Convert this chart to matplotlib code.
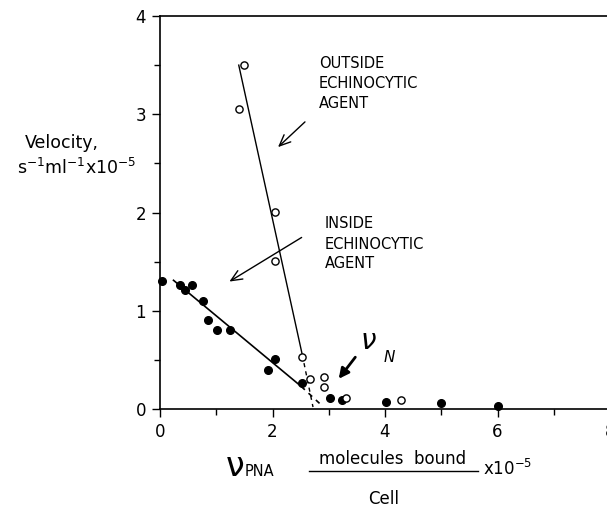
import matplotlib
matplotlib.use("Agg")
import matplotlib.pyplot as plt
from matplotlib.ticker import MultipleLocator

plt.rcParams['font.family'] = ['DejaVu Sans']
plt.rcParams['mathtext.fontset'] = 'dejavusans'

# Inside echinocytic agent (filled circles)
inside_x = [0.03, 0.36, 0.45, 0.57, 0.76, 0.86, 1.01, 1.25, 1.92, 2.04, 2.53, 3.03, 3.23, 4.02, 5.0, 6.0]
inside_y = [1.30, 1.26, 1.21, 1.26, 1.10, 0.905, 0.80, 0.80, 0.40, 0.51, 0.26, 0.11, 0.09, 0.075, 0.064, 0.03]

# Outside echinocytic agent (open circles)
outside_x = [1.50, 1.40, 2.05, 2.04, 2.53, 2.67, 2.91, 2.91, 3.31, 4.29]
outside_y = [3.50, 3.05, 2.01, 1.51, 0.53, 0.31, 0.33, 0.22, 0.11, 0.09]

# Fitted lines (solid part and dashed extrapolation)
inside_fit_x = [0.24, 2.51]
inside_fit_y = [1.31, 0.23]
inside_ext_x = [2.51, 2.85]
inside_ext_y = [0.23, 0.05]
outside_fit_x = [1.40, 2.53]
outside_fit_y = [3.50, 0.55]
outside_ext_x = [2.53, 2.72]
outside_ext_y = [0.55, 0.02]

xticks = [0, 2, 4, 6, 8]
yticks = [0, 1, 2, 3, 4]

fig = plt.figure(figsize=(6.07, 5.19), dpi=100)
ax = fig.add_axes([160/607, 1-409/519, (610-160)/607, (409-16)/519])

ax.plot(inside_fit_x, inside_fit_y, color='black', lw=1.2)
ax.plot(inside_ext_x, inside_ext_y, color='black', lw=1.2, ls=(0, (3, 3)))
ax.plot(outside_fit_x, outside_fit_y, color='black', lw=1.0)
ax.plot(outside_ext_x, outside_ext_y, color='black', lw=1.0, ls=(0, (3, 3)))

ax.plot(inside_x, inside_y, 'o', color='black', ms=5.5, clip_on=False, zorder=5)
ax.plot(outside_x, outside_y, 'o', mfc='white', mec='black', mew=1.0, ms=5.2, clip_on=False, zorder=5)

ax.set_xlim(0, 8)
ax.set_ylim(0, 4)
ax.set_xticks(xticks)
ax.set_yticks(yticks)
ax.xaxis.set_minor_locator(MultipleLocator(1))
ax.yaxis.set_minor_locator(MultipleLocator(0.5))
ax.tick_params(which='major', direction='out', length=6, width=1, labelsize=12, pad=4)
ax.tick_params(which='minor', direction='out', length=4, width=1)
ax.spines['right'].set_visible(False)
for s in ['left', 'bottom', 'top']:
    ax.spines[s].set_linewidth(1.2)

def px(x, y):
    return (x/607, 1-y/519)

# Annotations
for i, t in enumerate(['OUTSIDE', 'ECHINOCYTIC', 'AGENT']):
    fig.text(*px(319, 63 + 20*i), t, fontsize=10.5, ha='left', va='center')
for i, t in enumerate(['INSIDE', 'ECHINOCYTIC', 'AGENT']):
    fig.text(*px(325, 224 + 20*i), t, fontsize=10.5, ha='left', va='center')

arrowprops = dict(arrowstyle='->,head_length=0.8,head_width=0.35', color='black', lw=1.0)
ax.annotate('', xy=px(276, 149), xycoords='figure fraction',
            xytext=px(307, 120), textcoords='figure fraction', arrowprops=arrowprops)
ax.annotate('', xy=px(227, 283), xycoords='figure fraction',
            xytext=px(304, 236), textcoords='figure fraction', arrowprops=arrowprops)
ax.annotate('', xy=px(337, 381), xycoords='figure fraction',
            xytext=px(357, 355), textcoords='figure fraction',
            arrowprops=dict(arrowstyle='-|>,head_length=0.6,head_width=0.3', color='black', lw=2.0))
fig.text(*px(368, 341), 'ν', fontsize=20, style='italic', ha='center', va='center')
fig.text(*px(389, 357), 'N', fontsize=11, style='italic', ha='center', va='center')

# Y label
fig.text(*px(62, 143), 'Velocity,', fontsize=12.5, ha='center', va='center')
fig.text(*px(77, 168), r's$^{-1}$ml$^{-1}$x10$^{-5}$', fontsize=12.5, ha='center', va='center')

# X label
fig.text(*px(235, 466), 'ν', fontsize=24, ha='center', va='center')
fig.text(*px(245, 472), 'PNA', fontsize=10.5, ha='left', va='center')
fig.text(*px(393, 459), 'molecules  bound', fontsize=12, ha='center', va='center')
fig.add_artist(plt.Line2D([309/607, 478/607], [1-470.5/519, 1-470.5/519], color='black', lw=1.0))
fig.text(*px(483, 469), r'x10$^{-5}$', fontsize=12, ha='left', va='center')
fig.text(*px(384, 499), 'Cell', fontsize=12, ha='center', va='center')

fig.savefig('out.png', dpi=100)
